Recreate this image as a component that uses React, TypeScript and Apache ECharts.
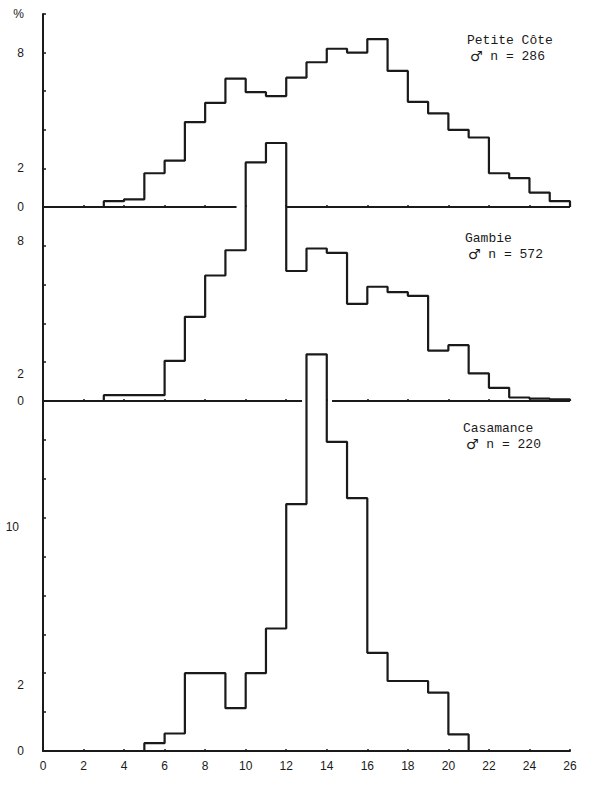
import React, { useEffect, useRef } from "react";
import * as echarts from "echarts";

// x axis ticks (length classes)
const xTickValues = [0, 2, 4, 6, 8, 10, 12, 14, 16, 18, 20, 22, 24, 26];

// Petite Côte, bins start at 3 (each bin 1 unit wide), % of n = 286
const petiteStart = 3;
const petiteCote = [0.3, 0.4, 1.75, 2.4, 4.4, 5.4, 6.65, 5.95, 5.75, 6.7, 7.5, 8.2, 8.0, 8.7, 7.05, 5.45, 4.85, 4.0, 3.6, 1.75, 1.5, 0.75, 0.3];

// Gambie, bins start at 3, % of n = 572
const gambieStart = 3;
const gambie = [0.3, 0.3, 0.3, 2.07, 4.34, 6.47, 7.77, 12.3, 13.3, 6.7, 7.86, 7.64, 5.01, 5.89, 5.61, 5.42, 2.6, 2.88, 1.42, 0.68, 0.18, 0.12, 0.08];

// Casamance, bins start at 5, % of n = 220
const casamanceStart = 5;
const casamance = [0.4, 0.9, 4.0, 4.0, 2.2, 4.0, 6.3, 12.7, 20.4, 15.9, 13.0, 5.05, 3.6, 3.6, 3.0, 0.85];

// baseline gaps (where the next histogram crosses the upper baseline)
const baseGap1 = [9.55, 12.04];
const baseGap2 = [12.78, 14.26];

// y tick labels per panel
const yLabelValues1 = [0, 2, 8, 10];
const yLabelTexts1 = ["0", "2", "8", "%"];
const yLabelValues2 = [0, 2, 8];
const yLabelTexts2 = ["0", "2", "8"];
const yLabelValues3 = [0, 2, 10];
const yLabelTexts3 = ["0", "2", "10"];

const titles = [
  { name: "Petite Côte", n: "n = 286" },
  { name: "Gambie", n: "n = 572" },
  { name: "Casamance", n: "n = 220" },
];
const maleSign = "♂";

const INK = "#1a1a1a";

function stepPoints(start: number, values: number[]) {
  const pts: number[][] = [[start, 0]];
  values.forEach((v, i) => pts.push([start + i, v]));
  pts.push([start + values.length, 0]);
  return pts;
}

export default function App() {
  const ref = useRef<HTMLDivElement>(null);
  useEffect(() => {
    if (!ref.current) return;
    const chart = echarts.init(ref.current, undefined, { renderer: "svg" });
    const labelFont = { fontFamily: "Liberation Sans", fontSize: 12, color: INK };

    const grids = [
      { left: 43, right: 30, top: 14, height: 193 },
      { left: 43, right: 30, top: 207, height: 194 },
      { left: 43, right: 30, top: 401, height: 350 },
    ];

    const xAxes = grids.map((_, i) => ({
      type: "value",
      gridIndex: i,
      min: 0,
      max: 26,
      interval: 2,
      splitLine: { show: false },
      axisLine: { show: i === 2, onZero: false, lineStyle: { color: INK, width: 2 } },
      axisTick: { show: true, inside: true, length: 2, lineStyle: { color: INK, width: 1.5 } },
      axisLabel: {
        show: i === 2,
        margin: 9,
        ...labelFont,
        formatter: (v: number) => (xTickValues.includes(v) ? String(v) : ""),
      },
    }));

    const mkFormatter = (vals: number[], texts: string[], styles: (string | null)[]) => (v: number) => {
      const k = vals.indexOf(v);
      if (k < 0) return "";
      return styles[k] ? `{${styles[k]}|${texts[k]}}` : texts[k];
    };

    const rich = {
      up5: { ...labelFont, padding: [0, 0, 10, 0] },
      dn12: { ...labelFont, padding: [24, 0, 0, 0] },
      up27: { ...labelFont, padding: [0, 0, 54, 0] },
      up30: { ...labelFont, padding: [0, 5, 60, 0] },
    };

    const yAxisBase = (i: number, max: number) => ({
      type: "value",
      gridIndex: i,
      min: 0,
      max,
      interval: 2,
      splitLine: { show: false },
      axisLine: { show: true, lineStyle: { color: INK, width: 2 } },
      axisTick: { show: true, inside: true, length: 3, lineStyle: { color: INK, width: 1.5 } },
    });

    const yAxes = [
      {
        ...yAxisBase(0, 10),
        axisLabel: { ...labelFont, margin: 19, rich, formatter: mkFormatter(yLabelValues1, yLabelTexts1, [null, null, null, null]) },
      },
      {
        ...yAxisBase(1, 10),
        axisLabel: { ...labelFont, margin: 19, rich, formatter: mkFormatter(yLabelValues2, yLabelTexts2, [null, "dn12", "up5"]) },
      },
      {
        ...yAxisBase(2, 18),
        axisLabel: { ...labelFont, margin: 19, rich, formatter: mkFormatter(yLabelValues3, yLabelTexts3, [null, "up27", "up30"]) },
      },
    ];

    const histLine = (i: number, start: number, values: number[]) => ({
      type: "line",
      xAxisIndex: i,
      yAxisIndex: i,
      step: "end",
      clip: false,
      showSymbol: false,
      symbol: "none",
      silent: true,
      z: 3,
      lineStyle: { color: INK, width: 2.2 },
      data: stepPoints(start, values),
    });

    const baseLine = (i: number, a: number, b: number) => ({
      type: "line",
      xAxisIndex: i,
      yAxisIndex: i,
      clip: false,
      showSymbol: false,
      symbol: "none",
      silent: true,
      z: 2,
      lineStyle: { color: INK, width: 2 },
      data: [[a, 0], [b, 0]],
    });

    const textPos = [
      { left: 467, top: 32 },
      { left: 465, top: 230 },
      { left: 463, top: 420 },
    ];

    const monoFont = "Liberation Mono, DejaVu Sans Mono, monospace";
    const option = {
      animation: false,
      backgroundColor: "#ffffff",
      grid: grids,
      xAxis: xAxes,
      yAxis: yAxes,
      series: [
        baseLine(0, 0, baseGap1[0]),
        baseLine(0, baseGap1[1], 26),
        baseLine(1, 0, baseGap2[0]),
        baseLine(1, baseGap2[1], 26),
        histLine(0, petiteStart, petiteCote),
        histLine(1, gambieStart, gambie),
        histLine(2, casamanceStart, casamance),
      ],
      graphic: titles.map((t, i) => ({
        type: "text",
        left: textPos[i].left,
        top: textPos[i].top,
        style: {
          text: `{t|${t.name}}\n{m|${maleSign}}{t| ${t.n}}`,
          fontFamily: monoFont,
          fontSize: 13,
          lineHeight: 16,
          fill: INK,
          rich: {
            t: { fontFamily: monoFont, fontSize: 13, lineHeight: 16, fill: INK, color: INK },
            m: { fontFamily: "DejaVu Sans", fontSize: 14, fontWeight: "bold", lineHeight: 16, padding: [0, 0, 0, 3], fill: INK, color: INK },
          },
        },
      })),
    };
    chart.setOption(option as any);
    return () => chart.dispose();
  }, []);
  return (
    <div
      ref={ref}
      style={{ position: "absolute", left: 0, top: 0, width: 600, height: 795, background: "#fff" }}
    />
  );
}
